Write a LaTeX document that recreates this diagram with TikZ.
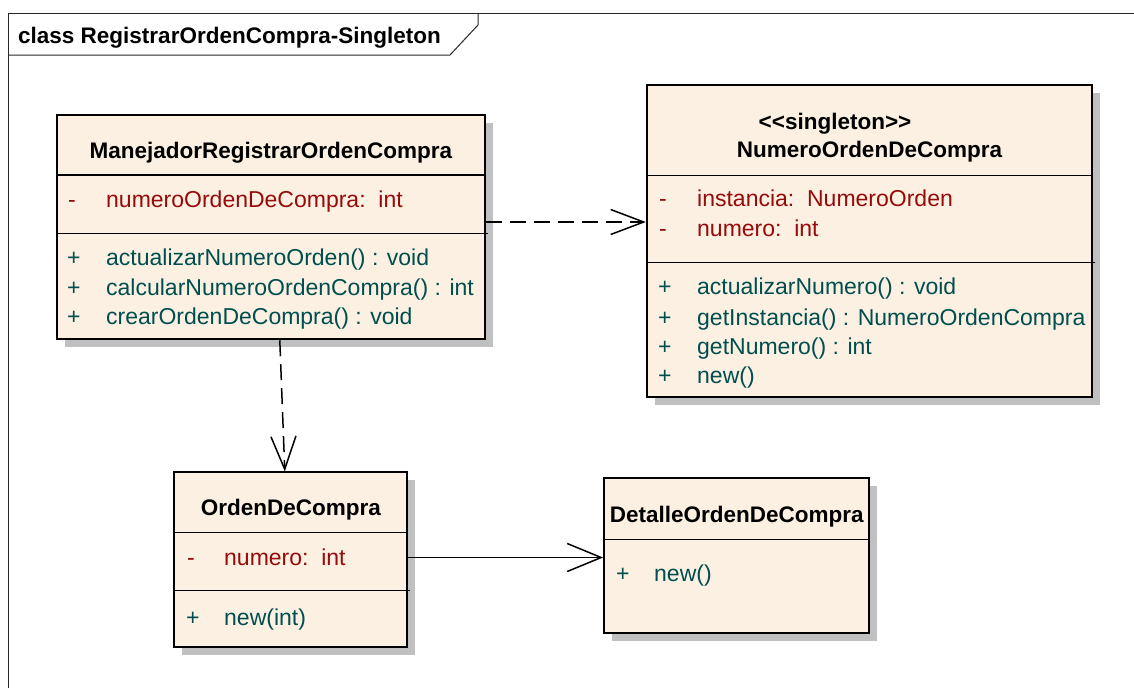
\documentclass[tikz,border=0pt]{standalone}
\usepackage{fontspec}
\setmainfont{Liberation Sans}
\usetikzlibrary{arrows.meta,shadows}
\definecolor{classfill}{RGB}{251,240,226}
\definecolor{shadowgrey}{RGB}{192,192,192}
\definecolor{attrred}{RGB}{150,10,10}
\definecolor{opergreen}{RGB}{0,78,78}
\definecolor{framegrey}{RGB}{40,40,40}
\newcommand{\umlfont}{\fontsize{23}{27}\selectfont}
\newcommand{\umlbold}{\fontsize{22.5}{27}\selectfont\bfseries}
\tikzset{
  classbox/.style={draw, line width=1.8pt, fill=classfill, inner sep=0pt,
    general shadow={fill=shadowgrey, shadow xshift=8pt, shadow yshift=-8pt}},
  ctitle/.style={font=\umlbold, anchor=base, inner sep=0pt},
  attr/.style={text=attrred, anchor=base west, inner sep=0pt},
  oper/.style={text=opergreen, anchor=base west, inner sep=0pt},
  vis/.style={anchor=base west, inner sep=0pt},
  divider/.style={line width=1.5pt},
  dep/.style={line width=1.5pt, dash pattern=on 16pt off 8pt, -{Straight Barb[length=33pt,width=25pt]}},
  assoc/.style={line width=1.5pt, -{Straight Barb[length=34pt,width=28pt]}}
}

\begin{document}
\begin{tikzpicture}[x=1pt, y=-1pt, font=\umlfont]
\useasboundingbox (0,0) rectangle (1134,688);
\fill[white] (0,0) rectangle (1134,688);
\draw[framegrey, line width=1pt] (8,688) -- (8,13.5) -- (1134,13.5);
\draw[framegrey, line width=1pt] (8,55) -- (450,55) -- (478,25) -- (478,13.5);
\node[font=\umlbold, anchor=base west, inner sep=0pt] (frametitle) at (18,43) {class RegistrarOrdenCompra-Singleton};

\node[classbox, minimum width=428.3pt, minimum height=224.3pt] (man) at (270.8,227.2) {};
\draw[divider] (56.7,175) -- (485,175);
\draw[divider] (56.7,233.3) -- (488,233.3);
\node[ctitle] (manT) at (270.8,158.3) {ManejadorRegistrarOrdenCompra};
\node[vis, text=attrred] (manV1) at (68,207.3) {-};
\node[attr] (manA1) at (106,207.3) {numeroOrdenDeCompra:~~int};
\node[vis, text=opergreen] (manV2) at (67,265.7) {+};
\node[oper] (manO1) at (106,265.7) {actualizarNumeroOrden() : void};
\node[vis, text=opergreen] (manV3) at (67,295) {+};
\node[oper] (manO2) at (106,295) {calcularNumeroOrdenCompra() : int};
\node[vis, text=opergreen] (manV4) at (67,324) {+};
\node[oper] (manO3) at (106,324) {crearOrdenDeCompra() : void};

\node[classbox, minimum width=445.6pt, minimum height=312.3pt] (num) at (869.5,241.2) {};
\draw[divider] (646.7,175.7) -- (1092.3,175.7);
\draw[divider] (646.7,262.7) -- (1095,262.7);
\node[ctitle] (numS) at (835,129.3) {<{}<singleton>{}>};
\node[ctitle] (numT) at (869.5,157.7) {NumeroOrdenDeCompra};
\node[vis, text=attrred] (numV1) at (659,206.7) {-};
\node[attr] (numA1) at (697,206.7) {instancia:~~NumeroOrden};
\node[vis, text=attrred] (numV2) at (659,236.7) {-};
\node[attr] (numA2) at (697,236.7) {numero:~~int};
\node[vis, text=opergreen] (numV3) at (658,294.3) {+};
\node[oper] (numO1) at (697,294.3) {actualizarNumero() : void};
\node[vis, text=opergreen] (numV4) at (658,325) {+};
\node[oper] (numO2) at (697,325) {getInstancia() : NumeroOrdenCompra};
\node[vis, text=opergreen] (numV5) at (658,354) {+};
\node[oper] (numO3) at (697,354) {getNumero() : int};
\node[vis, text=opergreen] (numV6) at (658,383.3) {+};
\node[oper] (numO4) at (697,383.3) {new()};

\node[classbox, minimum width=233pt, minimum height=174.4pt] (ord) at (290.8,559.5) {};
\draw[divider] (174.3,532.3) -- (407.3,532.3);
\draw[divider] (174.3,590.7) -- (410,590.7);
\node[ctitle] (ordT) at (290.8,515) {OrdenDeCompra};
\node[vis, text=attrred] (ordV1) at (187,565.7) {-};
\node[attr] (ordA1) at (224,565.7) {numero:~~int};
\node[vis, text=opergreen] (ordV2) at (186,625) {+};
\node[oper] (ordO1) at (224,625) {new(int)};

\node[classbox, minimum width=265.3pt, minimum height=155pt] (det) at (736.7,555.8) {};
\draw[divider] (604,539.3) -- (869.3,539.3);
\node[ctitle] (detT) at (736.7,522.7) {DetalleOrdenDeCompra};
\node[vis, text=opergreen] (detV1) at (616,581) {+};
\node[oper] (detO1) at (654,581) {new()};

\draw[dep] ([yshift=5.2pt]man.east) -- ([yshift=19.2pt]num.west);
\draw[dep] ([xshift=9pt]man.south) -- ([xshift=-6pt]ord.north);
\draw[assoc] ([yshift=2pt]ord.east) -- ([yshift=-1.7pt]det.west);
\end{tikzpicture}
\end{document}
